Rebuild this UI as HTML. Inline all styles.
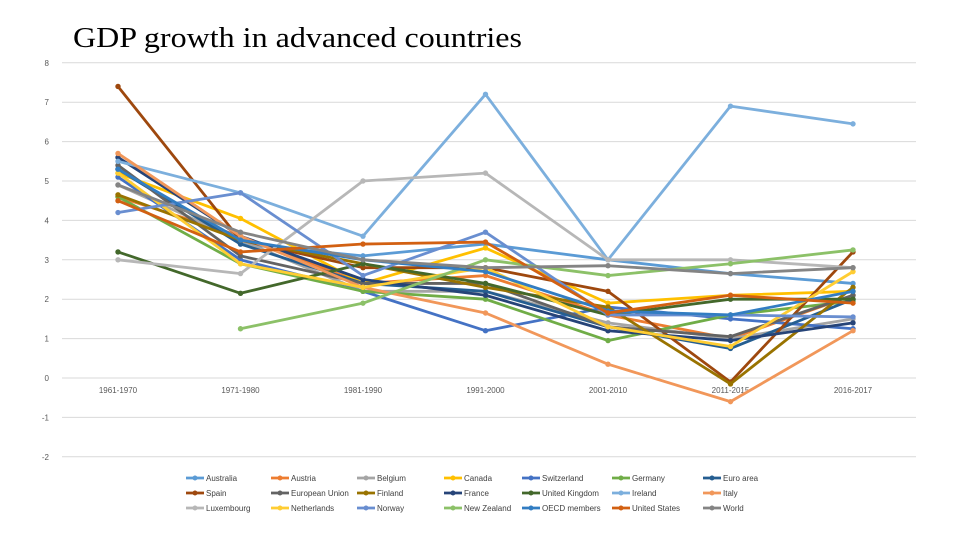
<!DOCTYPE html>
<html><head><meta charset="utf-8"><style>
body{margin:0;background:#fff;width:960px;height:540px;overflow:hidden;font-family:"Liberation Sans",sans-serif}
</style></head><body>
<svg id="chart" width="960" height="540">
<text x="73" y="47" font-family="Liberation Serif,serif" font-size="29" textLength="449" lengthAdjust="spacingAndGlyphs" fill="#000">GDP growth in advanced countries</text>
<g id="grid"></g><g id="series"></g><g id="legend"></g>
</svg>
<script>
const categories=["1961-1970","1971-1980","1981-1990","1991-2000","2001-2010","2011-2015","2016-2017"];
const yTicks=[8,7,6,5,4,3,2,1,0,-1,-2];
const names=["Australia","Austria","Belgium","Canada","Switzerland","Germany","Euro area","Spain","European Union","Finland","France","United Kingdom","Ireland","Italy","Luxembourg","Netherlands","Norway","New Zealand","OECD members","United States","World"];
const colors=["#5B9BD5","#ED7D31","#A5A5A5","#FFC000","#4472C4","#70AD47","#255E91","#9E480E","#636363","#997300","#264478","#43682B","#7CAFDD","#F1975A","#B7B7B7","#FFCD33","#698ED0","#8CC168","#327DC2","#D26012","#848484"];
const australia=[5.3,3.4,3.1,3.4,3.0,2.65,2.4];
const austria=[4.6,3.6,2.4,2.6,1.6,1.0,2.1];
const belgium=[4.9,3.5,2.2,2.2,1.4,1.0,1.5];
const canada=[5.2,4.05,2.4,3.3,1.9,2.1,2.2];
const switzerland=[5.1,3.0,2.2,1.2,1.8,1.5,1.25];
const germany=[4.6,2.9,2.2,2.0,0.95,1.6,1.95];
const euroArea=[5.3,3.4,2.4,2.2,1.3,0.75,2.0];
const spain=[7.4,3.5,2.8,2.8,2.2,-0.1,3.2];
const eu=[5.4,3.1,2.4,2.4,1.3,1.05,2.1];
const finland=[4.65,3.5,2.9,2.3,1.8,-0.15,2.3];
const france=[5.6,3.6,2.5,2.1,1.2,0.95,1.4];
const uk=[3.2,2.15,2.9,2.4,1.6,2.0,2.0];
const ireland=[5.5,4.7,3.6,7.2,3.0,6.9,6.45];
const italy=[5.7,3.6,2.3,1.65,0.35,-0.6,1.2];
const luxembourg=[3.0,2.65,5.0,5.2,3.0,3.0,2.8];
const netherlands=[5.2,2.9,2.3,2.8,1.3,0.8,2.7];
const norway=[4.2,4.7,2.6,3.7,1.6,1.6,1.55];
const newZealand=[null,1.25,1.9,3.0,2.6,2.9,3.25];
const oecd=[5.3,3.5,3.0,2.7,1.7,1.6,2.2];
const us=[4.5,3.2,3.4,3.45,1.65,2.1,1.9];
const world=[4.9,3.7,3.0,2.8,2.85,2.65,2.8];
const allSeries=[australia,austria,belgium,canada,switzerland,germany,euroArea,spain,eu,finland,france,uk,ireland,italy,luxembourg,netherlands,norway,newZealand,oecd,us,world];
const NS="http://www.w3.org/2000/svg";
const yS=v=>378-39.4*v;
const xS=i=>118+122.5*i;
function mk(t,a,p){const e=document.createElementNS(NS,t);for(const k in a)e.setAttribute(k,a[k]);p.appendChild(e);return e;}
const grid=document.getElementById('grid');
yTicks.forEach(t=>{
  const l=mk('line',{x1:62,x2:916,y1:yS(t),y2:yS(t),stroke:'#d9d9d9','stroke-width':1},grid);
  
  
  const tx=mk('text',{x:49,y:yS(t)+3,'font-size':8,fill:'#595959','text-anchor':'end'},grid);
  tx.textContent=t;
  
  
});
categories.forEach((c,i)=>{
  const tx=mk('text',{x:xS(i),y:393,'font-size':8,fill:'#595959','text-anchor':'middle'},grid);
  tx.textContent=c;
  
  
});
const sg=document.getElementById('series');
allSeries.forEach((s,k)=>{
  const g=mk('g',{},sg);
  
  
  let d='';
  s.forEach((v,i)=>{if(v===null)return;d+=(d?'L':'M')+xS(i)+','+yS(v);});
  mk('path',{d:d,fill:'none',stroke:colors[k],'stroke-width':2.8,'stroke-linejoin':'round'},g);
  s.forEach((v,i)=>{if(v===null)return;
    const c=mk('circle',{cx:xS(i),cy:yS(v),r:2.7,fill:colors[k]},g);
    
    
  });
});
const lg=document.getElementById('legend');
const colX=[186,271,357,444,522,612,703];
names.forEach((n,k)=>{
  const x=colX[k%7],y=478+15*Math.floor(k/7);
  const g=mk('g',{},lg);
  
  
  mk('line',{x1:x,x2:x+18,y1:y,y2:y,stroke:colors[k],'stroke-width':2.8},g);
  mk('circle',{cx:x+9,cy:y,r:2.5,fill:colors[k]},g);
  const t=mk('text',{x:x+20,y:y+3,'font-size':8,fill:'#404040'},g);
  t.textContent=n;
});
</script>
</body></html>
